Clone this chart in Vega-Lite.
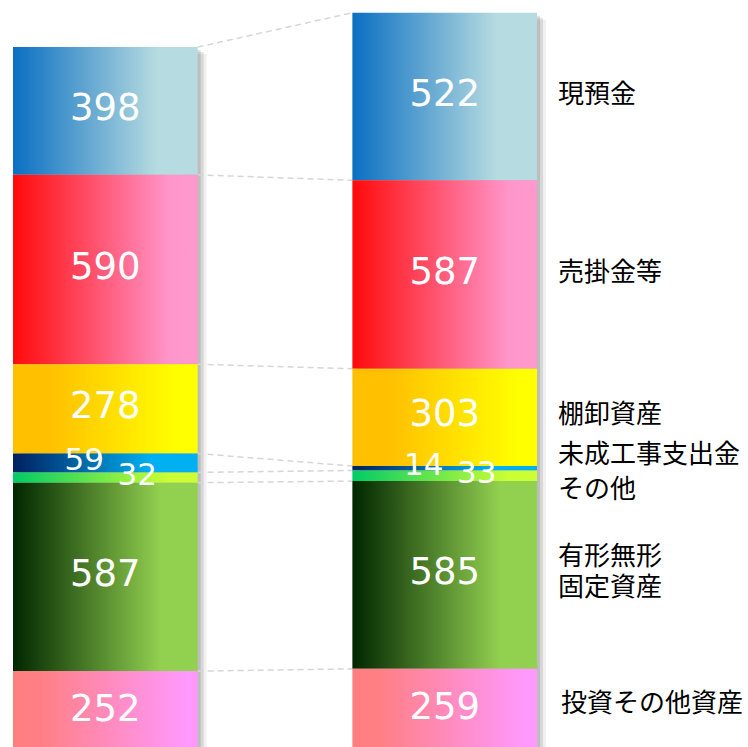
{
  "$schema": "https://vega.github.io/schema/vega-lite/v6.json",
  "width": 748,
  "height": 747,
  "autosize": {"type": "none"},
  "padding": 0,
  "background": "white",
  "config": {"view": {"stroke": null}},
  "data": {
    "values": [
      {"period": "前期", "category": "現預金", "label": "現預金", "value": 398, "order": 7},
      {"period": "前期", "category": "売掛金等", "label": "売掛金等", "value": 590, "order": 6},
      {"period": "前期", "category": "棚卸資産", "label": "棚卸資産", "value": 278, "order": 5},
      {"period": "前期", "category": "未成工事支出金", "label": "未成工事支出金", "value": 59, "order": 4},
      {"period": "前期", "category": "その他", "label": "その他", "value": 32, "order": 3},
      {"period": "前期", "category": "有形無形固定資産", "label": "有形無形\n固定資産", "value": 587, "order": 2},
      {"period": "前期", "category": "投資その他資産", "label": "投資その他資産", "value": 252, "order": 1},
      {"period": "当期", "category": "現預金", "label": "現預金", "value": 522, "order": 7},
      {"period": "当期", "category": "売掛金等", "label": "売掛金等", "value": 587, "order": 6},
      {"period": "当期", "category": "棚卸資産", "label": "棚卸資産", "value": 303, "order": 5},
      {"period": "当期", "category": "未成工事支出金", "label": "未成工事支出金", "value": 14, "order": 4},
      {"period": "当期", "category": "その他", "label": "その他", "value": 33, "order": 3},
      {"period": "当期", "category": "有形無形固定資産", "label": "有形無形\n固定資産", "value": 585, "order": 2},
      {"period": "当期", "category": "投資その他資産", "label": "投資その他資産", "value": 259, "order": 1}
    ]
  },
  "layer": [
    {
      "mark": {"type": "bar", "xOffset": 3, "yOffset": 3, "fill": "#000000", "opacity": 0.12},
      "encoding": {
        "x": {"field": "period", "type": "nominal", "axis": null, "scale": {"domain": ["前期", "当期"], "range": [13, 537], "paddingInner": 0.456, "paddingOuter": 0}},
        "y": {"aggregate": "sum", "field": "value", "type": "quantitative", "axis": null, "scale": {"domain": [15.6, 2342.7], "nice": false, "zero": false}}
      }
    },
    {
      "mark": {"type": "bar", "xOffset": 6, "yOffset": 5, "fill": "#000000", "opacity": 0.1},
      "encoding": {
        "x": {"field": "period", "type": "nominal", "axis": null, "scale": {"domain": ["前期", "当期"], "range": [13, 537], "paddingInner": 0.456, "paddingOuter": 0}},
        "y": {"aggregate": "sum", "field": "value", "type": "quantitative", "axis": null, "scale": {"domain": [15.6, 2342.7], "nice": false, "zero": false}}
      }
    },
    {
      "mark": {"type": "bar", "xOffset": 9, "yOffset": 7, "fill": "#000000", "opacity": 0.06},
      "encoding": {
        "x": {"field": "period", "type": "nominal", "axis": null, "scale": {"domain": ["前期", "当期"], "range": [13, 537], "paddingInner": 0.456, "paddingOuter": 0}},
        "y": {"aggregate": "sum", "field": "value", "type": "quantitative", "axis": null, "scale": {"domain": [15.6, 2342.7], "nice": false, "zero": false}}
      }
    },
    {
      "transform": [
        {"stack": "value", "groupby": ["period"], "sort": [{"field": "order", "order": "ascending"}], "as": ["y0", "y1"]},
        {"pivot": "period", "value": "y1", "groupby": ["category"]}
      ],
      "mark": {"type": "rule", "strokeDash": [6, 4], "color": "#d6d6d6", "strokeWidth": 1.5},
      "encoding": {
        "x": {"datum": "前期", "type": "nominal", "bandPosition": 1, "axis": null, "scale": {"domain": ["前期", "当期"], "range": [13, 537], "paddingInner": 0.456, "paddingOuter": 0}},
        "x2": {"datum": "当期", "bandPosition": 0},
        "y": {"field": "前期", "type": "quantitative", "axis": null, "scale": {"domain": [15.6, 2342.7], "nice": false, "zero": false}},
        "y2": {"field": "当期"}
      }
    },
    {
      "mark": {"type": "bar"},
      "encoding": {
        "x": {"field": "period", "type": "nominal", "axis": null, "scale": {"domain": ["前期", "当期"], "range": [13, 537], "paddingInner": 0.456, "paddingOuter": 0}},
        "y": {"field": "value", "type": "quantitative", "stack": "zero", "axis": null, "scale": {"domain": [15.6, 2342.7], "nice": false, "zero": false}},
        "detail": {"field": "category", "type": "nominal"},
        "order": {"field": "order", "type": "quantitative"},
        "fill": {
          "condition": [
            {"test": "datum.category === '現預金'", "value": {"gradient": "linear", "x1": 0, "y1": 0, "x2": 1, "y2": 0, "stops": [{"offset": 0, "color": "#0a6fc2"}, {"offset": 0.78, "color": "#b6dbe0"}, {"offset": 1, "color": "#b6dbe0"}]}},
            {"test": "datum.category === '売掛金等'", "value": {"gradient": "linear", "x1": 0, "y1": 0, "x2": 1, "y2": 0, "stops": [{"offset": 0, "color": "#ff0a0a"}, {"offset": 0.85, "color": "#ff96cb"}, {"offset": 1, "color": "#ff99cc"}]}},
            {"test": "datum.category === '棚卸資産'", "value": {"gradient": "linear", "x1": 0, "y1": 0, "x2": 1, "y2": 0, "stops": [{"offset": 0, "color": "#ffc000"}, {"offset": 0.2, "color": "#ffc000"}, {"offset": 0.9, "color": "#ffff00"}, {"offset": 1, "color": "#ffff00"}]}},
            {"test": "datum.category === '未成工事支出金'", "value": {"gradient": "linear", "x1": 0, "y1": 0, "x2": 1, "y2": 0, "stops": [{"offset": 0, "color": "#002060"}, {"offset": 0.75, "color": "#00b0f0"}, {"offset": 1, "color": "#00b0f0"}]}},
            {"test": "datum.category === 'その他'", "value": {"gradient": "linear", "x1": 0, "y1": 0, "x2": 1, "y2": 0, "stops": [{"offset": 0, "color": "#00cc66"}, {"offset": 0.85, "color": "#ccff33"}, {"offset": 1, "color": "#ccff33"}]}},
            {"test": "datum.category === '有形無形固定資産'", "value": {"gradient": "linear", "x1": 0, "y1": 0, "x2": 1, "y2": 0, "stops": [{"offset": 0, "color": "#002600"}, {"offset": 0.8, "color": "#92d050"}, {"offset": 1, "color": "#92d050"}]}},
            {"test": "datum.category === '投資その他資産'", "value": {"gradient": "linear", "x1": 0, "y1": 0, "x2": 1, "y2": 0, "stops": [{"offset": 0, "color": "#ff7f7f"}, {"offset": 0.15, "color": "#ff7f85"}, {"offset": 0.95, "color": "#ff99ff"}, {"offset": 1, "color": "#ff99ff"}]}}
          ],
          "value": "#999999"
        }
      }
    },
    {
      "mark": {"type": "text", "color": "white", "fontSize": 37, "font": "DejaVu Sans", "baseline": "middle", "align": "center", "dy": -2},
      "encoding": {
        "x": {"field": "period", "type": "nominal", "axis": null, "scale": {"domain": ["前期", "当期"], "range": [13, 537], "paddingInner": 0.456, "paddingOuter": 0}},
        "y": {"field": "value", "type": "quantitative", "stack": "zero", "bandPosition": 0.5, "axis": null, "scale": {"domain": [15.6, 2342.7], "nice": false, "zero": false}},
        "detail": {"field": "category", "type": "nominal"},
        "order": {"field": "order", "type": "quantitative"},
        "text": {"condition": {"test": "datum.order === 3 || datum.order === 4", "value": ""}, "field": "value", "type": "quantitative"}
      }
    },
    {
      "mark": {"type": "text", "color": "white", "fontSize": 31, "font": "DejaVu Sans", "baseline": "middle", "align": "center", "dx": -21, "dy": -2},
      "encoding": {
        "x": {"field": "period", "type": "nominal", "axis": null, "scale": {"domain": ["前期", "当期"], "range": [13, 537], "paddingInner": 0.456, "paddingOuter": 0}},
        "y": {"field": "value", "type": "quantitative", "stack": "zero", "bandPosition": 0.5, "axis": null, "scale": {"domain": [15.6, 2342.7], "nice": false, "zero": false}},
        "detail": {"field": "category", "type": "nominal"},
        "order": {"field": "order", "type": "quantitative"},
        "text": {"condition": {"test": "datum.order !== 4", "value": ""}, "field": "value", "type": "quantitative"}
      }
    },
    {
      "mark": {"type": "text", "color": "white", "fontSize": 31, "font": "DejaVu Sans", "baseline": "middle", "align": "center", "dx": 32, "dy": -2},
      "encoding": {
        "x": {"field": "period", "type": "nominal", "axis": null, "scale": {"domain": ["前期", "当期"], "range": [13, 537], "paddingInner": 0.456, "paddingOuter": 0}},
        "y": {"field": "value", "type": "quantitative", "stack": "zero", "bandPosition": 0.5, "axis": null, "scale": {"domain": [15.6, 2342.7], "nice": false, "zero": false}},
        "detail": {"field": "category", "type": "nominal"},
        "order": {"field": "order", "type": "quantitative"},
        "text": {"condition": {"test": "datum.order !== 3", "value": ""}, "field": "value", "type": "quantitative"}
      }
    },
    {
      "transform": [{"filter": "datum.period === '当期'"}],
      "mark": {"type": "text", "color": "#000000", "fontSize": 26, "font": "Noto Sans CJK JP", "baseline": "middle", "align": "left", "dx": 21, "dy": -2},
      "encoding": {
        "x": {"field": "period", "type": "nominal", "bandPosition": 1, "axis": null, "scale": {"domain": ["前期", "当期"], "range": [13, 537], "paddingInner": 0.456, "paddingOuter": 0}},
        "y": {"field": "value", "type": "quantitative", "stack": "zero", "bandPosition": 0.5, "axis": null, "scale": {"domain": [15.6, 2342.7], "nice": false, "zero": false}},
        "detail": {"field": "category", "type": "nominal"},
        "order": {"field": "order", "type": "quantitative"},
        "text": {"condition": {"test": "datum.order <= 4", "value": ""}, "field": "label", "type": "nominal"}
      }
    },
    {
      "transform": [{"filter": "datum.period === '当期'"}],
      "mark": {"type": "text", "color": "#000000", "fontSize": 26, "font": "Noto Sans CJK JP", "baseline": "middle", "align": "left", "dx": 21, "dy": -18, "lineBreak": "\n", "lineHeight": 31},
      "encoding": {
        "x": {"field": "period", "type": "nominal", "bandPosition": 1, "axis": null, "scale": {"domain": ["前期", "当期"], "range": [13, 537], "paddingInner": 0.456, "paddingOuter": 0}},
        "y": {"field": "value", "type": "quantitative", "stack": "zero", "bandPosition": 0.5, "axis": null, "scale": {"domain": [15.6, 2342.7], "nice": false, "zero": false}},
        "detail": {"field": "category", "type": "nominal"},
        "order": {"field": "order", "type": "quantitative"},
        "text": {"condition": {"test": "datum.order !== 2", "value": ""}, "field": "label", "type": "nominal"}
      }
    },
    {
      "transform": [{"filter": "datum.period === '当期'"}],
      "mark": {"type": "text", "color": "#000000", "fontSize": 26, "font": "Noto Sans CJK JP", "baseline": "middle", "align": "left", "dx": 21, "dy": -13},
      "encoding": {
        "x": {"field": "period", "type": "nominal", "bandPosition": 1, "axis": null, "scale": {"domain": ["前期", "当期"], "range": [13, 537], "paddingInner": 0.456, "paddingOuter": 0}},
        "y": {"field": "value", "type": "quantitative", "stack": "zero", "bandPosition": 0.5, "axis": null, "scale": {"domain": [15.6, 2342.7], "nice": false, "zero": false}},
        "detail": {"field": "category", "type": "nominal"},
        "order": {"field": "order", "type": "quantitative"},
        "text": {"condition": {"test": "datum.order !== 4", "value": ""}, "field": "label", "type": "nominal"}
      }
    },
    {
      "transform": [{"filter": "datum.period === '当期'"}],
      "mark": {"type": "text", "color": "#000000", "fontSize": 26, "font": "Noto Sans CJK JP", "baseline": "middle", "align": "left", "dx": 21, "dy": 14},
      "encoding": {
        "x": {"field": "period", "type": "nominal", "bandPosition": 1, "axis": null, "scale": {"domain": ["前期", "当期"], "range": [13, 537], "paddingInner": 0.456, "paddingOuter": 0}},
        "y": {"field": "value", "type": "quantitative", "stack": "zero", "bandPosition": 0.5, "axis": null, "scale": {"domain": [15.6, 2342.7], "nice": false, "zero": false}},
        "detail": {"field": "category", "type": "nominal"},
        "order": {"field": "order", "type": "quantitative"},
        "text": {"condition": {"test": "datum.order !== 3", "value": ""}, "field": "label", "type": "nominal"}
      }
    },
    {
      "transform": [{"filter": "datum.period === '当期'"}],
      "mark": {"type": "text", "color": "#000000", "fontSize": 26, "font": "Noto Sans CJK JP", "baseline": "middle", "align": "left", "dx": 24, "dy": -6},
      "encoding": {
        "x": {"field": "period", "type": "nominal", "bandPosition": 1, "axis": null, "scale": {"domain": ["前期", "当期"], "range": [13, 537], "paddingInner": 0.456, "paddingOuter": 0}},
        "y": {"field": "value", "type": "quantitative", "stack": "zero", "bandPosition": 0.5, "axis": null, "scale": {"domain": [15.6, 2342.7], "nice": false, "zero": false}},
        "detail": {"field": "category", "type": "nominal"},
        "order": {"field": "order", "type": "quantitative"},
        "text": {"condition": {"test": "datum.order !== 1", "value": ""}, "field": "label", "type": "nominal"}
      }
    }
  ]
}
